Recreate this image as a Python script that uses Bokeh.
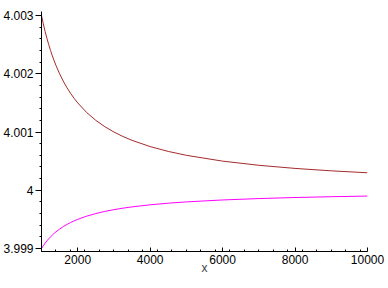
from bokeh.plotting import figure
from bokeh.models import Range1d, FixedTicker
from bokeh.embed import file_html
from bokeh.resources import INLINE

# x samples and values
x_vals = [1000, 1050, 1100, 1150, 1200, 1250, 1300, 1350, 1400, 1500, 1600,
          1700, 1800, 1900, 2000, 2250, 2500, 2750, 3000, 3250, 3500, 4000,
          4500, 5000, 6000, 7000, 8000, 9000, 10000]
upper = [4.003, 4.0028571, 4.0027273, 4.0026087, 4.0025, 4.0024, 4.0023077,
         4.0022222, 4.0021429, 4.002, 4.001875, 4.0017647, 4.0016667,
         4.0015789, 4.0015, 4.0013333, 4.0012, 4.0010909, 4.001, 4.0009231,
         4.0008571, 4.00075, 4.0006667, 4.0006, 4.0005, 4.0004286, 4.000375,
         4.0003333, 4.0003]
lower = [3.999, 3.9990476, 3.9990909, 3.9991304, 3.9991667, 3.9992,
         3.9992308, 3.9992593, 3.9992857, 3.9993333, 3.999375, 3.9994118,
         3.9994444, 3.9994737, 3.9995, 3.9995556, 3.9996, 3.9996364,
         3.9996667, 3.9996923, 3.9997143, 3.99975, 3.9997778, 3.9998,
         3.9998333, 3.9998571, 3.999875, 3.9998889, 3.9999]
x_ticks = [2000, 4000, 6000, 8000, 10000]
y_ticks = [3.999, 4.0, 4.001, 4.002, 4.003]
y_tick_labels = {3.999: "3.999", 4.0: "4", 4.001: "4.001", 4.002: "4.002", 4.003: "4.003"}

p = figure(width=388, height=288, output_backend="svg", toolbar_location=None,
           x_range=Range1d(1000, 10000), y_range=Range1d(3.998948, 4.00307),
           min_border_left=41, min_border_right=21, min_border_top=11,
           min_border_bottom=37)
p.outline_line_color = None
p.xgrid.grid_line_color = None
p.ygrid.grid_line_color = None
p.background_fill_color = "white"
p.border_fill_color = "white"

p.line(x_vals, upper, line_color="#A52A2A", line_width=1)
p.line(x_vals, lower, line_color="#FF00FF", line_width=1)

font = "Liberation Sans"
xa = p.xaxis[0]
xa.ticker = FixedTicker(ticks=x_ticks,
                        minor_ticks=[1000 + 400 * i for i in range(23)])
xa.major_tick_in = 4
xa.major_tick_out = 0
xa.minor_tick_in = 2
xa.minor_tick_out = 0
xa.major_label_standoff = 3
xa.major_label_text_font = font
xa.major_label_text_font_size = "12px"
xa.major_label_text_color = "black"
xa.axis_label = "x"
xa.axis_label_text_font = font
xa.axis_label_text_font_size = "12px"
xa.axis_label_text_font_style = "normal"
xa.axis_label_standoff = -6
xa.axis_line_color = "black"

ya = p.yaxis[0]
ya.ticker = FixedTicker(ticks=y_ticks,
                        minor_ticks=[round(3.999 + 0.0002 * i, 4) for i in range(21)])
ya.major_label_overrides = {k: v for k, v in y_tick_labels.items()}
ya.major_tick_in = 0
ya.major_tick_out = 6
ya.minor_tick_in = 0
ya.minor_tick_out = 2
ya.major_label_standoff = 2
ya.major_label_text_font = font
ya.major_label_text_font_size = "12px"
ya.major_label_text_color = "black"
ya.axis_line_color = "black"

open("out.html", "w").write(file_html(p, INLINE))
